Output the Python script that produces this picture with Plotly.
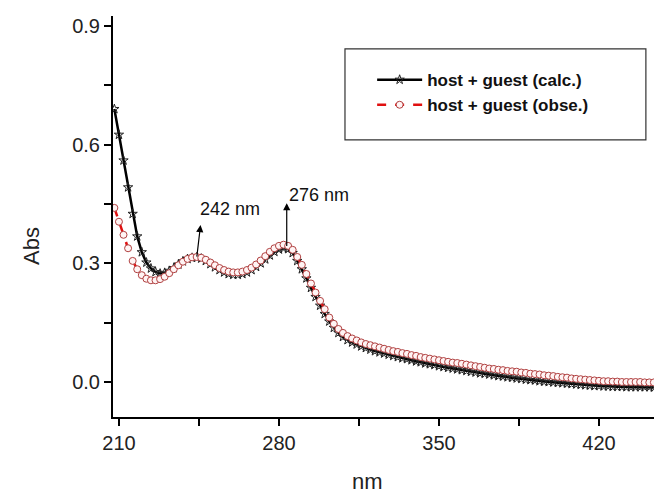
import plotly.graph_objects as go

wavelength = list(range(208, 446, 2))

abs_calc = [
    0.690, 0.625, 0.560, 0.492, 0.425, 0.368, 0.328, 0.302, 0.287, 0.278,
    0.274, 0.276, 0.281, 0.288, 0.297, 0.305, 0.311, 0.314, 0.315, 0.312,
    0.306, 0.298, 0.290, 0.283, 0.277, 0.273, 0.271, 0.271, 0.273, 0.277,
    0.283, 0.291, 0.300, 0.310, 0.320, 0.329, 0.335, 0.338, 0.336, 0.326,
    0.306, 0.285, 0.262, 0.238, 0.215, 0.193, 0.172, 0.153, 0.137, 0.124,
    0.114, 0.106, 0.100, 0.095, 0.090, 0.086, 0.082, 0.078, 0.075, 0.072,
    0.069, 0.066, 0.063, 0.060, 0.058, 0.055, 0.052, 0.050, 0.047, 0.045,
    0.043, 0.040, 0.038, 0.036, 0.034, 0.032, 0.030, 0.028, 0.026, 0.024,
    0.022, 0.021, 0.019, 0.017, 0.015, 0.014, 0.012, 0.011, 0.009, 0.008,
    0.006, 0.005, 0.004, 0.002, 0.001, 0.000, -0.001, -0.002, -0.003, -0.004,
    -0.005, -0.006, -0.007, -0.008, -0.009, -0.010, -0.010, -0.011, -0.011, -0.012,
    -0.012, -0.012, -0.013, -0.013, -0.013, -0.013, -0.013, -0.013, -0.014,
]

abs_obs = [
    0.440, 0.405, 0.372, 0.338, 0.306, 0.285, 0.270, 0.261, 0.257, 0.257,
    0.260, 0.266, 0.275, 0.285, 0.295, 0.304, 0.311, 0.315, 0.316, 0.314,
    0.309, 0.302, 0.295, 0.288, 0.283, 0.279, 0.277, 0.277, 0.279, 0.283,
    0.289, 0.297, 0.307, 0.318, 0.329, 0.338, 0.344, 0.347, 0.344, 0.334,
    0.316, 0.296, 0.273, 0.249, 0.226, 0.205, 0.184, 0.163, 0.147, 0.134,
    0.124, 0.116, 0.110, 0.105, 0.100, 0.096, 0.093, 0.090, 0.087, 0.084,
    0.081, 0.078, 0.076, 0.073, 0.071, 0.068, 0.066, 0.063, 0.061, 0.059,
    0.057, 0.055, 0.053, 0.051, 0.049, 0.048, 0.046, 0.044, 0.042, 0.040,
    0.038, 0.036, 0.034, 0.033, 0.031, 0.030, 0.028, 0.027, 0.026, 0.024,
    0.023, 0.021, 0.020, 0.019, 0.017, 0.016, 0.015, 0.013, 0.012, 0.011,
    0.009, 0.008, 0.007, 0.006, 0.005, 0.004, 0.003, 0.002, 0.002, 0.001,
    0.001, 0.000, 0.000, 0.000, 0.000, 0.000, -0.001, -0.001, -0.001,
]

x_ticks = [210, 280, 350, 420]
y_ticks = [0.0, 0.3, 0.6, 0.9]

FONT = "Liberation Sans, Arial, sans-serif"

fig = go.Figure()
fig.add_trace(go.Scatter(
    x=wavelength, y=abs_calc, mode="lines+markers",
    name="host + guest (calc.)",
    line=dict(color="black", width=2.5),
    marker=dict(symbol="star-open", size=7, color="#222222", line=dict(width=1)),
))
fig.add_trace(go.Scatter(
    x=wavelength, y=abs_obs, mode="lines+markers",
    name="host + guest (obse.)",
    line=dict(color="#e01010", width=2.5, dash="dash"),
    marker=dict(symbol="circle", size=7, color="#fff4f4",
                line=dict(color="#b04040", width=1)),
))

axis_common = dict(
    showline=True, linecolor="black", linewidth=2,
    ticks="outside", ticklen=7, tickwidth=1.5, tickcolor="black",
    showgrid=False, zeroline=False, mirror=False,
    tickfont=dict(family=FONT, size=20, color="#222222"),
)

fig.update_xaxes(
    range=[207.4, 444.06], tickvals=x_ticks, ticktext=[str(v) for v in x_ticks],
    minor=dict(dtick=35, tick0=210, ticks="outside", ticklen=7, tickwidth=1.5, tickcolor="black"),
    **axis_common,
)
fig.update_yaxes(
    range=[-0.0885, 0.925], tickvals=y_ticks, ticktext=[f"{v:.1f}" for v in y_ticks],
    minor=dict(dtick=0.15, tick0=0, ticks="outside", ticklen=7, tickwidth=1.5, tickcolor="black"),
    **axis_common,
)

# legend frame
fig.add_shape(type="rect", xref="paper", yref="paper",
              x0=0.4288, x1=0.985, y0=0.691, y1=0.918,
              line=dict(color="#333333", width=1.2), fillcolor="white", layer="below")

annotations = [
    # peak arrows
    dict(x=245.7, y=0.397, ax=244, ay=0.313, xref="x", yref="y", axref="x", ayref="y",
         text="", showarrow=True, arrowhead=2, arrowsize=1.2, arrowwidth=1.2, arrowcolor="black"),
    dict(x=283.4, y=0.452, ax=283.4, ay=0.34, xref="x", yref="y", axref="x", ayref="y",
         text="", showarrow=True, arrowhead=2, arrowsize=1.2, arrowwidth=1.2, arrowcolor="black"),
    dict(x=258.6, y=0.437, xref="x", yref="y", text="242 nm", showarrow=False,
         font=dict(family=FONT, size=18, color="#111111")),
    dict(x=297.5, y=0.473, xref="x", yref="y", text="276 nm", showarrow=False,
         font=dict(family=FONT, size=18, color="#111111")),
    # axis titles
    dict(x=367, y=481, xref="paper", yref="paper", text="nm", showarrow=False,
         xanchor="center", yanchor="middle",
         font=dict(family=FONT, size=22, color="#222222")),
    dict(x=31, y=246, xref="paper", yref="paper", text="Abs", showarrow=False, textangle=-90,
         xanchor="center", yanchor="middle",
         font=dict(family=FONT, size=22, color="#222222")),
]
# convert pixel-placed titles to paper coords
L, R, T, B = 113, 0, 16, 79
W, H = 654, 496
pw, ph = W - L - R, H - T - B
for a in annotations[4:]:
    a["x"] = (a["x"] - L) / pw
    a["y"] = (H - B - a["y"]) / ph

fig.update_layout(
    width=W, height=H,
    margin=dict(l=L, r=R, t=T, b=B, pad=0),
    paper_bgcolor="white", plot_bgcolor="white",
    font=dict(family=FONT, color="#222222"),
    showlegend=True,
    legend=dict(x=0.479, y=0.885, xanchor="left", yanchor="top",
                bgcolor="rgba(0,0,0,0)", borderwidth=0,
                font=dict(family=FONT, size=17, color="#111111", weight="bold"),
                itemwidth=45, tracegroupgap=0),
    annotations=annotations,
)

fig.write_html("out.html", config={"displayModeBar": False},
               post_script="document.body.style.margin='0px';document.body.style.padding='0px';")
